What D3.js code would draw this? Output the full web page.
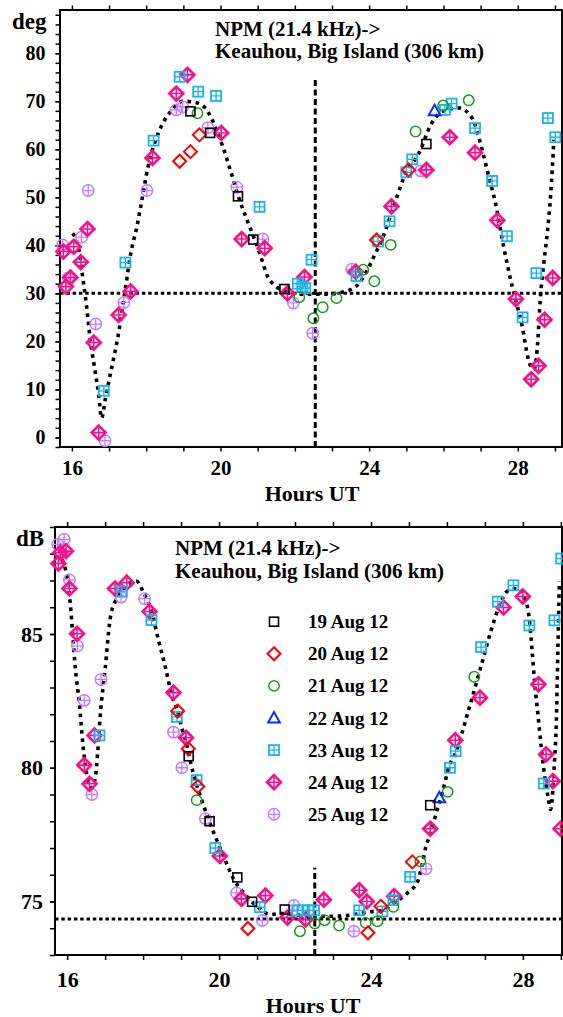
<!DOCTYPE html>
<html><head><meta charset="utf-8">
<script src="https://cdn.jsdelivr.net/npm/d3@7"></script>
<style>
body{margin:0;background:#fff}
svg{display:block}
text{font-family:"Liberation Serif","Times New Roman",serif;font-weight:bold;fill:#000}
</style>
</head><body>
<svg id="c" width="563" height="1017"></svg>
<script>
// ---------- DATA ----------
const days = ["19 Aug 12","20 Aug 12","21 Aug 12","22 Aug 12","23 Aug 12","24 Aug 12","25 Aug 12"];
const hourTicks = [16,17,18,19,20,21,22,23,24,25,26,27,28,29];
const hourLabels = [16,20,24,28];
const degLabels = [0,10,20,30,40,50,60,70,80];
const dbLabels = [75,80,85];
const titleLines = ["NPM (21.4 kHz)->","Keauhou, Big Island (306 km)"];

// Phase (deg) panel
const phase19 = [[19.19,67.9],[19.72,63.4],[20.47,50.2],[20.88,41.2],[21.72,30.9],[25.54,61.1]];
const phase20 = [[18.9,57.5],[19.19,59.5],[19.43,63.0],[24.2,41.1],[25.06,55.7]];
const phase21 = [[19.38,67.5],[22.12,29.2],[22.5,24.8],[22.75,27.1],[23.12,29.0],[23.84,34.9],[24.14,32.5],[24.58,40.1],[25.25,63.7],[25.99,69.1],[26.68,70.2]];
const phase22 = [[25.76,68.0]];
const phase23 = [[16.86,9.7],[17.44,36.4],[18.2,61.8],[18.9,75.1],[19.4,72.0],[19.88,71.1],[21.05,48.0],[22.08,32.0],[22.2,31.4],[22.28,31.1],[22.45,37.0],[23.66,33.6],[24.24,40.8],[24.55,45.0],[25.0,55.2],[25.16,57.9],[26.04,68.2],[26.22,69.5],[26.85,64.4],[27.31,53.4],[27.71,41.9],[28.13,25.0],[28.5,34.2],[28.81,66.5],[29.01,62.5]];
const phase24 = [[15.77,38.7],[15.84,31.4],[15.96,33.3],[16.05,39.7],[16.24,36.5],[16.42,43.4],[16.59,19.75],[16.72,1.0],[17.26,25.5],[17.58,30.4],[18.17,58.2],[18.81,71.6],[19.11,75.5],[20.02,63.4],[20.57,41.3],[21.19,39.4],[21.8,30.0],[22.26,33.4],[23.64,34.5],[24.6,48.1],[25.54,55.7],[26.17,62.5],[26.85,59.3],[27.45,45.2],[27.95,28.8],[28.36,12.1],[28.56,14.9],[28.72,24.5],[28.94,33.2]];
const phase25 = [[15.75,40.1],[15.9,33.2],[16.26,41.7],[16.44,51.4],[16.64,23.6],[16.89,-0.7],[17.4,28.1],[18.02,51.4],[18.81,68.2],[18.98,68.8],[19.66,64.5],[20.44,52.1],[21.14,41.3],[21.96,28.0],[22.48,21.7],[23.53,35.0],[25.39,55.5]];
const phaseFit = [[16.02,42.5],[16.12,41],[16.19,39],[16.28,34],[16.4,27],[16.5,20],[16.62,14],[16.72,9],[16.8,4],[16.9,8],[17.07,14.5],[17.24,21],[17.42,30],[17.6,39],[17.74,43.5],[17.85,48],[18.05,56.4],[18.36,64],[18.63,67.6],[18.99,70.0],[19.3,69.8],[19.6,68.5],[19.75,66.5],[20.06,60.6],[20.29,55],[20.51,49.5],[20.82,43.2],[21.05,38.4],[21.27,33.5],[21.5,31.4],[21.76,30.4],[22.2,29.8],[22.8,29.8],[23.3,30.3],[23.64,31.4],[23.91,34.2],[24.13,37.7],[24.36,41.5],[24.72,49.5],[24.98,55],[25.34,59.2],[25.66,65.1],[25.97,67.9],[26.42,68.6],[26.77,66.5],[27.04,59.9],[27.22,54.3],[27.4,48.8],[27.6,40.5],[27.85,31.4],[28.12,23.1],[28.29,16.1],[28.43,14.1],[28.52,18.2],[28.61,29.3],[28.7,36.3],[28.8,43],[28.88,50],[28.93,56],[28.97,62]];
const phaseRefH = 30;
const phaseRefV = [22.55, 75];

// Amplitude (dB) panel
const amp19 = [[19.2,80.43],[19.75,78.0],[20.48,75.9],[20.87,74.99],[21.73,74.7],[25.56,78.6]];
const amp20 = [[18.91,82.12],[19.19,80.71],[19.44,79.3],[20.76,73.99],[23.92,73.83],[24.26,74.82],[25.09,76.48]];
const amp21 = [[19.41,78.79],[22.13,73.89],[22.52,74.18],[22.78,74.3],[23.16,74.1],[23.86,74.2],[24.17,74.26],[24.59,74.8],[25.3,76.5],[26.02,79.1],[26.72,83.4]];
const amp22 = [[25.8,78.88]];
const amp23 = [[16.85,81.21],[17.44,86.6],[18.22,85.52],[18.89,81.9],[19.41,79.54],[19.9,77.0],[21.07,74.79],[22.06,74.67],[22.2,74.67],[22.35,74.67],[22.5,74.67],[23.69,74.67],[24.3,74.63],[24.59,75.05],[25.03,75.92],[26.08,80.0],[26.23,80.62],[26.9,84.51],[27.34,86.21],[27.75,86.82],[28.17,85.32],[28.55,79.41],[28.83,85.51],[29.01,87.82]];
const amp24 = [[15.77,87.64],[15.82,88.04],[15.97,88.1],[16.06,86.7],[16.26,85.01],[16.45,80.1],[16.59,79.4],[16.72,81.21],[17.26,86.7],[17.57,86.92],[18.17,85.84],[18.8,82.81],[19.13,81.12],[20.02,76.7],[20.59,75.1],[21.22,75.22],[21.8,74.4],[22.28,74.33],[22.76,75.07],[23.69,75.42],[23.89,75.0],[24.61,75.2],[25.56,77.72],[26.22,81.03],[26.87,82.62],[27.49,85.99],[28.0,86.4],[28.41,83.12],[28.61,80.5],[28.79,79.5],[28.99,77.72]];
const amp25 = [[15.75,88.35],[15.92,88.54],[16.06,87.02],[16.27,84.55],[16.45,82.52],[16.65,79.0],[16.89,83.3],[17.42,86.38],[18.04,86.32],[18.8,81.33],[19.02,80.0],[19.64,78.1],[20.46,75.32],[21.14,74.29],[21.97,74.85],[23.55,73.89],[25.45,76.22]];
const ampFit = [[15.86,87.79],[15.99,87.17],[16.08,86.17],[16.15,84.92],[16.21,83.8],[16.32,82.43],[16.41,80.94],[16.47,80.19],[16.56,79.44],[16.65,79.25],[16.74,79.63],[16.8,80.5],[16.87,81.93],[17.0,83.68],[17.13,85.55],[17.27,86.23],[17.53,86.77],[17.82,86.98],[18.01,86.55],[18.23,85.8],[18.41,84.74],[18.59,83.74],[18.76,82.68],[18.89,82.18],[19.03,81.43],[19.16,80.81],[19.25,80.19],[19.33,79.75],[19.6,78.56],[19.86,77.57],[20.12,76.69],[20.39,75.82],[20.65,75.32],[21.0,74.82],[21.36,74.51],[21.62,74.55],[21.97,74.51],[22.5,74.45],[23.03,74.45],[23.55,74.51],[23.99,74.62],[24.26,74.65],[24.61,74.95],[24.96,75.32],[25.23,75.76],[25.35,76.4],[25.45,77.07],[25.58,77.57],[25.72,78.32],[25.89,79.12],[26.06,80.06],[26.24,80.6],[26.55,82.06],[26.9,83.8],[27.17,85.17],[27.38,86.05],[27.6,86.61],[27.87,86.7],[28.06,86.3],[28.17,85.55],[28.24,84.43],[28.31,83.18],[28.4,81.93],[28.48,80.81],[28.55,79.94],[28.66,78.94],[28.73,78.44],[28.79,79.19],[28.83,80.19],[28.88,81.68],[28.92,84.3],[28.96,86.98]];
const ampRefH = 74.35;
const ampRefV = [22.52, 76.26];

// ---------- STYLE ----------
const markerTypes = ["sq","dia","cir","tri","grid","pdia","pcir"];
const C = {sq:"#000000",dia:"#ff0000",cir:"#1a9a1a",tri:"#0a2cff",grid:"#1ab4ea",pdia:"#f2148c",pcir:"#c47cff"};

function marker(g, type){
  const c = C[type];
  if(type==="sq"){
    g.append("rect").attr("x",-4.5).attr("y",-4.5).attr("width",9).attr("height",9)
      .attr("fill","none").attr("stroke",c).attr("stroke-width",1.6);
  } else if(type==="dia"){
    g.append("path").attr("d","M0,-6.5L6.5,0L0,6.5L-6.5,0Z").attr("fill","none").attr("stroke",c).attr("stroke-width",2);
  } else if(type==="cir"){
    g.append("circle").attr("r",5.2).attr("fill","none").attr("stroke",c).attr("stroke-width",1.5);
  } else if(type==="tri"){
    g.append("path").attr("d","M0,-6L5.8,4.5L-5.8,4.5Z").attr("fill","none").attr("stroke",c).attr("stroke-width",2);
  } else if(type==="grid"){
    g.append("rect").attr("x",-5).attr("y",-5).attr("width",10).attr("height",10)
      .attr("fill","none").attr("stroke",c).attr("stroke-width",1.8);
    g.append("path").attr("d","M0,-5V5M-5,0H5").attr("stroke",c).attr("stroke-width",1.3);
  } else if(type==="pdia"){
    g.append("path").attr("d","M0,-7L7,0L0,7L-7,0Z").attr("fill","none").attr("stroke",c).attr("stroke-width",2.6);
    g.append("path").attr("d","M0,-7V7M-7,0H7").attr("stroke",c).attr("stroke-width",1.6);
  } else if(type==="pcir"){
    g.append("circle").attr("r",5.7).attr("fill","none").attr("stroke",c).attr("stroke-width",1.5);
    g.append("path").attr("d","M0,-5.7V5.7M-5.7,0H5.7").attr("stroke",c).attr("stroke-width",1.3);
  }
}

const svg = d3.select("#c");

function panel(cfg){
  const x = d3.scaleLinear().domain(cfg.xDomain).range([cfg.left, cfg.right]);
  const y = d3.scaleLinear().domain(cfg.yDomain).range([cfg.bottom, cfg.top]);
  const g = svg.append("g");

  // axes
  const xb = d3.axisBottom(x).tickValues(hourTicks).tickSize(cfg.tick)
    .tickPadding(cfg.xPad).tickFormat(d => hourLabels.includes(d) ? d : "");
  const ax = g.append("g").attr("transform",`translate(0,${cfg.bottom})`).call(xb);
  const xt = d3.axisTop(x).tickValues(hourTicks).tickSize(cfg.tick).tickFormat("");
  const at = g.append("g").attr("transform",`translate(0,${cfg.top})`).call(xt);
  const yMinor = d3.axisLeft(y).tickValues(cfg.yMinor).tickSize(cfg.tick).tickFormat("");
  const am = g.append("g").attr("transform",`translate(${cfg.left},0)`).call(yMinor);
  const yMajor = d3.axisLeft(y).tickValues(cfg.yLabels).tickSize(cfg.tick).tickPadding(cfg.yPad);
  const ay = g.append("g").attr("transform",`translate(${cfg.left},0)`).call(yMajor);
  [ax,at,am,ay].forEach(a=>{
    a.select(".domain").remove();
    a.selectAll(".tick line").attr("stroke","#000").attr("stroke-width",1.5);
    a.selectAll("text").attr("font-family",'"Liberation Serif",serif').attr("font-weight","bold").attr("fill","#000");
  });
  ax.selectAll("text").attr("font-size",cfg.xFont);
  ay.selectAll("text").attr("font-size",cfg.yFont);

  // box
  g.append("rect").attr("x",cfg.left).attr("y",cfg.top)
    .attr("width",cfg.right-cfg.left).attr("height",cfg.bottom-cfg.top)
    .attr("fill","none").attr("stroke","#000").attr("stroke-width",2);

  // unit label
  g.append("text").attr("x",cfg.unitX).attr("y",cfg.unitY).attr("font-size",cfg.unitFont).text(cfg.unit);
  // x label
  g.append("text").attr("x",cfg.xLabelX).attr("y",cfg.xLabelY).attr("text-anchor","middle")
    .attr("font-size",22).text("Hours UT");
  // title
  titleLines.forEach((t,i)=>{
    g.append("text").attr("x",cfg.titleX).attr("y",cfg.titleY + i*cfg.titleGap)
      .attr("font-size",cfg.titleFont).text(t);
  });

  // reference lines
  g.append("line").attr("x1",cfg.left).attr("x2",cfg.right)
    .attr("y1",y(cfg.refH)).attr("y2",y(cfg.refH))
    .attr("stroke","#000").attr("stroke-width",3).attr("stroke-dasharray","3.5,2.8");
  g.append("line").attr("x1",x(cfg.refV[0])).attr("x2",x(cfg.refV[0]))
    .attr("y1",y(cfg.yDomain[0])).attr("y2",y(cfg.refV[1]))
    .attr("stroke","#000").attr("stroke-width",3).attr("stroke-dasharray","6,3.5");

  // fit curve
  const line = d3.line().x(d=>x(d[0])).y(d=>y(d[1])).curve(d3.curveMonotoneX);
  g.append("path").attr("d",line(cfg.fit)).attr("fill","none")
    .attr("stroke","#000").attr("stroke-width",3.6).attr("stroke-dasharray","3.6,4.6");

  // markers (later days underneath)
  for(let i=cfg.series.length-1;i>=0;i--){
    cfg.series[i].forEach(p=>{
      const mg = g.append("g").attr("transform",`translate(${x(p[0])},${y(p[1])})`);
      marker(mg, markerTypes[i]);
    });
  }
  return {x,y,g};
}

panel({
  left:60, right:562, top:10, bottom:447,
  xDomain:[15.68,29.19], yDomain:[-2,89],
  yLabels:degLabels, yMinor:d3.range(-2,89,2),
  tick:4.5, xPad:9, yPad:10, xFont:21, yFont:20,
  unit:"deg", unitX:12, unitY:29, unitFont:23,
  xLabelX:312, xLabelY:501,
  titleX:215, titleY:36, titleGap:22, titleFont:21,
  refH:phaseRefH, refV:phaseRefV, fit:phaseFit,
  series:[phase19,phase20,phase21,phase22,phase23,phase24,phase25]
});

const P2 = panel({
  left:55, right:562, top:527, bottom:955,
  xDomain:[15.68,29.03], yDomain:[73,89],
  yLabels:dbLabels, yMinor:d3.range(73,90,1),
  tick:5, xPad:11, yPad:7, xFont:22, yFont:22,
  unit:"dB", unitX:16, unitY:546, unitFont:23,
  xLabelX:313, xLabelY:1013,
  titleX:175, titleY:555, titleGap:23, titleFont:21,
  refH:ampRefH, refV:ampRefV, fit:ampFit,
  series:[amp19,amp20,amp21,amp22,amp23,amp24,amp25]
});

// legend
const legTop = 621.7, legGap = 32.1;
days.forEach((d,i)=>{
  const cy = legTop + i*legGap;
  const mg = P2.g.append("g").attr("transform",`translate(274,${cy})`);
  marker(mg, markerTypes[i]);
  P2.g.append("text").attr("x",308).attr("y",cy+6.5).attr("font-size",19).text(d);
});
</script>
</body></html>
